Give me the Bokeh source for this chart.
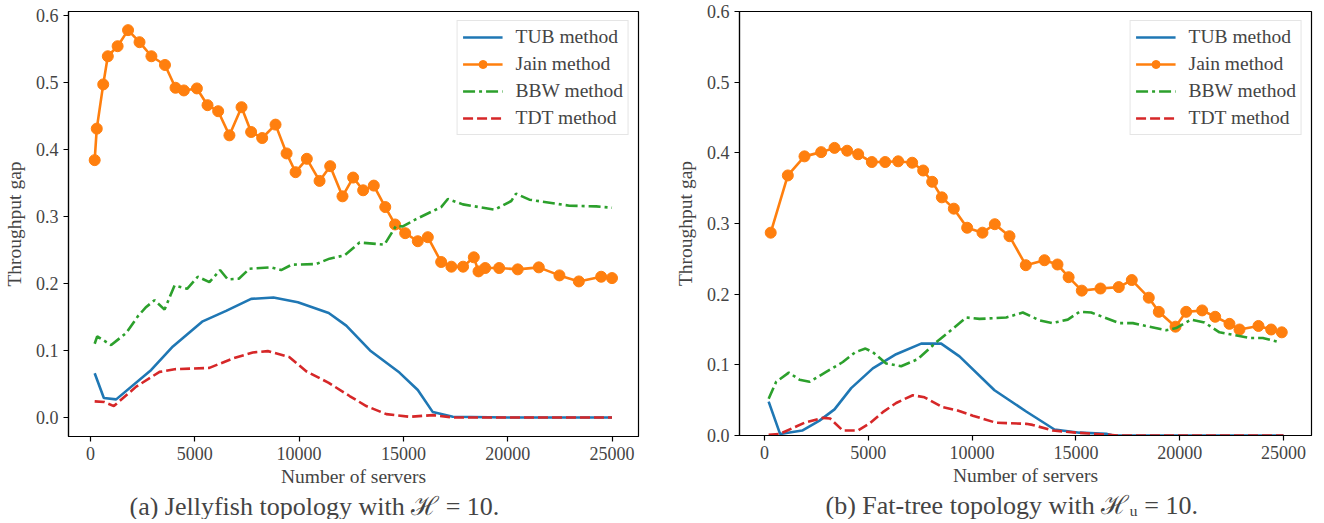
from bokeh.plotting import figure
from bokeh.layouts import row
from bokeh.models import Range1d, FixedTicker, PrintfTickFormatter, Title, Legend, LegendItem
from bokeh.embed import file_html
from bokeh.resources import INLINE

# ---------------- data: (a) Jellyfish ----------------
a_tub_x = [200, 640, 1230, 2910, 3950, 5350, 6500, 7700, 8770, 9940, 11420, 12260, 13400, 14810, 15690, 16410, 17370, 20000, 25000]
a_tub_y = [0.066, 0.029, 0.027, 0.071, 0.106, 0.143, 0.159, 0.177, 0.179, 0.172, 0.156, 0.137, 0.100, 0.067, 0.041, 0.008, 0.001, 0.0, 0.0]

a_jain_x = [200, 300, 610, 830, 1300, 1800, 2350, 2920, 3570, 4075, 4475, 5100, 5610, 6120, 6660, 7240, 7700, 8230, 8870, 9400,
            9830, 10370, 10980, 11490, 12080, 12590, 13070, 13580, 14130, 14600, 15085, 15690, 16170, 16810, 17300, 17860, 18375,
            18600, 18920, 19590, 20480, 21490, 22480, 23410, 24480, 25000]
a_jain_y = [0.384, 0.431, 0.497, 0.539, 0.554, 0.578, 0.560, 0.539, 0.526, 0.492, 0.488, 0.491, 0.466, 0.457, 0.421, 0.463, 0.426,
            0.417, 0.437, 0.394, 0.366, 0.386, 0.353, 0.375, 0.330, 0.358, 0.339, 0.346, 0.314, 0.288, 0.275, 0.263, 0.269, 0.232,
            0.225, 0.225, 0.239, 0.218, 0.223, 0.223, 0.221, 0.224, 0.212, 0.203, 0.210, 0.208]

a_bbw_x = [200, 320, 990, 1710, 2270, 2640, 3070, 3550, 4030, 4630, 5140, 5700, 6210, 6580, 7110, 7620, 8660, 9140, 9650, 10820,
           11460, 12180, 12900, 14090, 14650, 14970, 15610, 16810, 17130, 17850, 19370, 20170, 20400, 21040, 22960, 24240, 25000]
a_bbw_y = [0.110, 0.121, 0.108, 0.126, 0.151, 0.164, 0.175, 0.161, 0.197, 0.192, 0.210, 0.202, 0.220, 0.206, 0.207, 0.222, 0.224,
           0.220, 0.228, 0.229, 0.237, 0.242, 0.261, 0.258, 0.286, 0.285, 0.296, 0.314, 0.326, 0.318, 0.310, 0.323, 0.334, 0.325,
           0.316, 0.315, 0.313]

a_tdt_x = [200, 670, 1120, 2190, 3310, 4030, 5700, 6820, 7780, 8500, 9540, 10340, 11400, 12420, 13220, 14180, 15300, 16410, 17370, 25000]
a_tdt_y = [0.024, 0.023, 0.017, 0.046, 0.068, 0.072, 0.074, 0.088, 0.097, 0.099, 0.090, 0.069, 0.052, 0.032, 0.017, 0.005, 0.001,
           0.0035, 0.0, 0.0]

# ---------------- data: (b) Fat-tree ----------------
b_tub_x = [200, 754, 1815, 2650, 3372, 4176, 5218, 6342, 7548, 8511, 9393, 11079, 12606, 13969, 15173, 16460, 16800, 25000]
b_tub_y = [0.048, 0.002, 0.007, 0.021, 0.037, 0.067, 0.095, 0.115, 0.130, 0.130, 0.112, 0.064, 0.034, 0.0085, 0.004, 0.0024, 0.0, 0.0]

b_jain_x = [300, 1124, 1927, 2730, 3372, 3983, 4513, 5170, 5813, 6440, 7114, 7644, 8078, 8543, 9119, 9763, 10500, 11095, 11802,
            12588, 13487, 14114, 14650, 15284, 16185, 17067, 17694, 18512, 18994, 19798, 20313, 21084, 21710, 22399, 22881,
            23796, 24407, 24918]
b_jain_y = [0.287, 0.368, 0.395, 0.401, 0.407, 0.403, 0.398, 0.387, 0.387, 0.388, 0.386, 0.375, 0.359, 0.337, 0.321, 0.294, 0.287,
            0.299, 0.282, 0.241, 0.248, 0.242, 0.224, 0.205, 0.208, 0.210, 0.220, 0.195, 0.175, 0.154, 0.175, 0.177, 0.168,
            0.158, 0.150, 0.155, 0.150, 0.146]

b_bbw_x = [200, 563, 1171, 1686, 2168, 2971, 3774, 4383, 4865, 5218, 5860, 6582, 7386, 8270, 9072, 9716, 10356, 11643, 12443,
           13247, 13850, 14610, 15173, 15736, 17100, 17742, 19348, 19830, 20553, 21195, 21917, 23362, 24003, 24800]
b_bbw_y = [0.052, 0.076, 0.089, 0.079, 0.076, 0.090, 0.104, 0.118, 0.123, 0.118, 0.102, 0.098, 0.108, 0.132, 0.151, 0.167, 0.165,
           0.167, 0.174, 0.163, 0.159, 0.164, 0.175, 0.174, 0.159, 0.159, 0.149, 0.152, 0.164, 0.160, 0.146, 0.138, 0.138, 0.132]

b_tdt_x = [200, 722, 1927, 2810, 3163, 3774, 4496, 5058, 5700, 6342, 7145, 7707, 8592, 9233, 10036, 11160, 12606, 12910, 13890,
           15014, 16618, 17000, 25000]
b_tdt_y = [0.001, 0.002, 0.018, 0.025, 0.024, 0.007, 0.007, 0.017, 0.033, 0.046, 0.057, 0.054, 0.040, 0.036, 0.028, 0.018, 0.0165,
           0.015, 0.007, 0.004, 0.001, 0.0, 0.0]

x_ticks = [0, 5000, 10000, 15000, 20000, 25000]
y_ticks = [0.0, 0.1, 0.2, 0.3, 0.4, 0.5, 0.6]
labels = ["TUB method", "Jain method", "BBW method", "TDT method"]
caption_a = "(a) Jellyfish topology with \u210b = 10."
caption_b = "(b) Fat-tree topology with \u210b\u1d64 = 10."

FONT = "Liberation Serif"
C_TUB, C_JAIN, C_BBW, C_TDT = "#1f77b4", "#ff7f0e", "#2ca02c", "#d62728"
LW = 2.6


def make(series, xr, yr, fw, fh, bl, br, bt, caption, cap_offset):
    p = figure(frame_width=fw, frame_height=fh, x_range=Range1d(*xr), y_range=Range1d(*yr),
               output_backend="svg", toolbar_location=None,
               min_border_left=bl, min_border_right=br, min_border_top=bt, min_border_bottom=5)
    p.grid.visible = False
    p.outline_line_color = "black"
    p.outline_line_width = 1.2
    p.background_fill_color = "white"
    p.border_fill_color = "white"

    (tx, ty), (jx, jy), (bx, by), (dx, dy) = series
    r1 = p.line(tx, ty, color=C_TUB, line_width=LW)
    r2 = p.line(jx, jy, color=C_JAIN, line_width=LW)
    r2b = p.scatter(jx, jy, size=11, color=C_JAIN)
    r3 = p.line(bx, by, color=C_BBW, line_width=LW, line_dash="12 4 3 4")
    r4 = p.line(dx, dy, color=C_TDT, line_width=LW, line_dash="10 4")

    legend = Legend(items=[LegendItem(label=labels[0], renderers=[r1]),
                           LegendItem(label=labels[1], renderers=[r2, r2b]),
                           LegendItem(label=labels[2], renderers=[r3]),
                           LegendItem(label=labels[3], renderers=[r4])],
                    location="top_right")
    legend.label_text_font = FONT
    legend.label_text_font_size = "19.5px"
    legend.glyph_width = 40
    legend.glyph_height = 20
    legend.label_height = 20
    legend.label_standoff = 13
    legend.spacing = 5
    legend.padding = 5
    legend.margin = 9
    legend.border_line_color = "#cccccc"
    legend.border_line_width = 1
    legend.background_fill_alpha = 0.8
    p.add_layout(legend)

    for ax in (p.xaxis[0], p.yaxis[0]):
        ax.major_label_text_font = FONT
        ax.major_label_text_font_size = "18px"
        ax.axis_label_text_font = FONT
        ax.axis_label_text_font_size = "19.5px"
        ax.axis_label_text_font_style = "normal"
        ax.major_tick_out = 5
        ax.major_tick_in = 0
        ax.minor_tick_out = 0
        ax.minor_tick_in = 0
        ax.axis_line_color = "black"
        ax.axis_line_width = 1.2
        ax.major_tick_line_width = 1.2
        ax.major_label_standoff = 5
    p.xaxis.ticker = FixedTicker(ticks=x_ticks)
    p.yaxis.ticker = FixedTicker(ticks=y_ticks)
    p.yaxis.formatter = PrintfTickFormatter(format="%.1f")
    p.xaxis.axis_label = "Number of servers"
    p.yaxis.axis_label = "Throughput gap"
    p.xaxis.axis_label_standoff = 3
    p.yaxis.axis_label_standoff = 8

    cap = Title(text=caption, align="left", offset=cap_offset, text_font=FONT, text_font_size="26px",
                text_font_style="normal", standoff=0)
    p.add_layout(cap, "below")
    return p


pa = make([(a_tub_x, a_tub_y), (a_jain_x, a_jain_y), (a_bbw_x, a_bbw_y), (a_tdt_x, a_tdt_y)],
          (-1055, 26270), (-0.0284, 0.6058), 570, 425, 61, 33, 10, caption_a, 61)
pb = make([(b_tub_x, b_tub_y), (b_jain_x, b_jain_y), (b_bbw_x, b_bbw_y), (b_tdt_x, b_tdt_y)],
          (-1204, 26350), (0.0, 0.6), 572, 424, 60, 4, 11, caption_b, 86)

layout = row(pa, pb)
open("out.html", "w").write(file_html(layout, INLINE))
